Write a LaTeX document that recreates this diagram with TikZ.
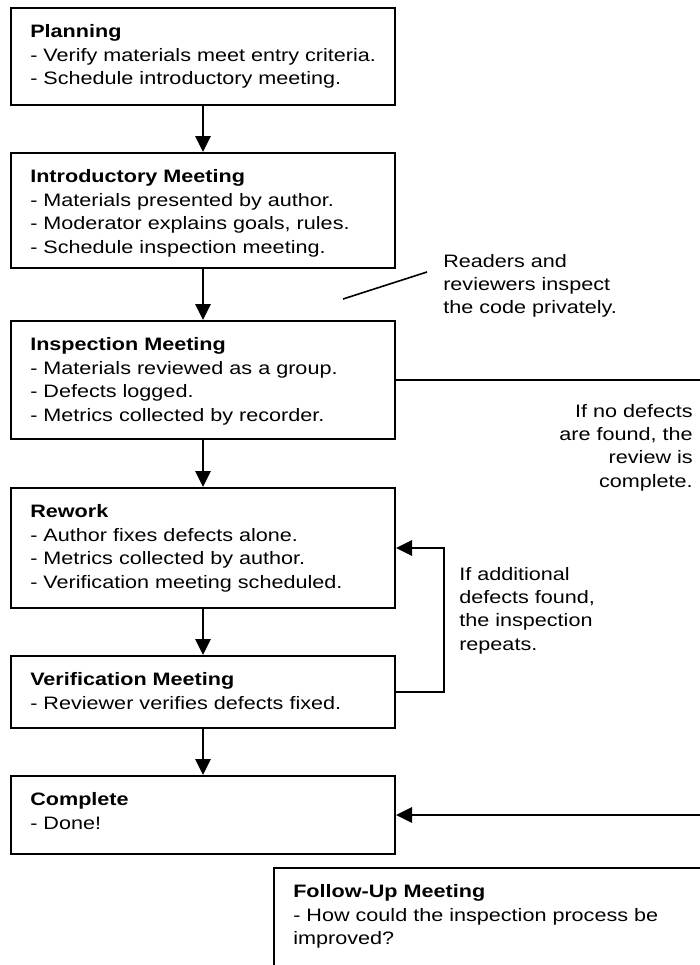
\documentclass[tikz,border=0pt]{standalone}
\usepackage{fontspec}
\setmainfont{Liberation Sans}[FakeStretch=1.2]
\usepackage{tikz}
\usetikzlibrary{arrows.meta}

\begin{document}
\begin{tikzpicture}[x=.75pt,y=-.75pt,font=\fontsize{13.5}{17.6}\selectfont,
    stage/.style={draw,line width=1.5pt,anchor=north west,minimum width=288pt,inner sep=0pt},
    stagetext/.style={anchor=base west,xshift=15pt,yshift=-23pt,text width=300pt,align=left,inner sep=0pt},
    note/.style={anchor=base west,text width=140pt,align=left,inner sep=0pt},
    flow/.style={-{Triangle[width=11.5pt,length=12pt]},line width=1.5pt}]
    \path[use as bounding box] (0,0) rectangle (700,965);
    \clip (0,0) rectangle (700,965);
    % process boxes
    \node[stage,minimum height=72.75pt] (plan) at (10,7) {};
    \node[stagetext] (planT) at (plan.north west) {\textbf{Planning}\\- Verify materials meet entry criteria.\\- Schedule introductory meeting.};
    \node[stage,minimum height=86.25pt] (intro) at (10,152) {};
    \node[stagetext] (introT) at (intro.north west) {\textbf{Introductory Meeting}\\- Materials presented by author.\\- Moderator explains goals, rules.\\- Schedule inspection meeting.};
    \node[stage,minimum height=88.5pt] (insp) at (10,320) {};
    \node[stagetext] (inspT) at (insp.north west) {\textbf{Inspection Meeting}\\- Materials reviewed as a group.\\- Defects logged.\\- Metrics collected by recorder.};
    \node[stage,minimum height=90pt] (rework) at (10,487) {};
    \node[stagetext] (reworkT) at (rework.north west) {\textbf{Rework}\\- Author fixes defects alone.\\- Metrics collected by author.\\- Verification meeting scheduled.};
    \node[stage,minimum height=54pt] (verif) at (10,655) {};
    \node[stagetext] (verifT) at (verif.north west) {\textbf{Verification Meeting}\\- Reviewer verifies defects fixed.};
    \node[stage,minimum height=58.5pt] (done) at (10,775) {};
    \node[stagetext] (doneT) at (done.north west) {\textbf{Complete}\\- Done!};
    \node[stage,minimum width=345pt,minimum height=105pt] (follow) at (273,867) {};
    \node[stagetext] (followT) at (follow.north west) {\textbf{Follow-Up Meeting}\\- How could the inspection process be\\improved?};
    % side notes
    \node[note] (readers) at (443,267) {Readers and\\reviewers inspect\\the code privately.};
    \node[note,anchor=base east,align=right] (nodefects) at (693,417) {If no defects\\are found, the\\review is\\complete.};
    \node[note] (again) at (459,580) {If additional\\defects found,\\the inspection\\repeats.};
    \coordinate (calloutA) at (343,299);
    \coordinate (calloutB) at (427,272);
    \coordinate (rim) at (730,600);
    % connectors
    \draw[flow] (plan.south) -- (intro.north);
    \draw[flow] (intro.south) -- (insp.north);
    \draw[flow] (insp.south) -- (rework.north);
    \draw[flow] (rework.south) -- (verif.north);
    \draw[flow] (verif.south) -- (done.north);
    \draw[flow] (verif.east) -- ++(48,0) |- (rework.east);
    \draw[flow] (insp.east) -| (rim) |- (done.east);
    \draw[line width=1.2pt] (calloutA) -- (calloutB);
\end{tikzpicture}
\end{document}
